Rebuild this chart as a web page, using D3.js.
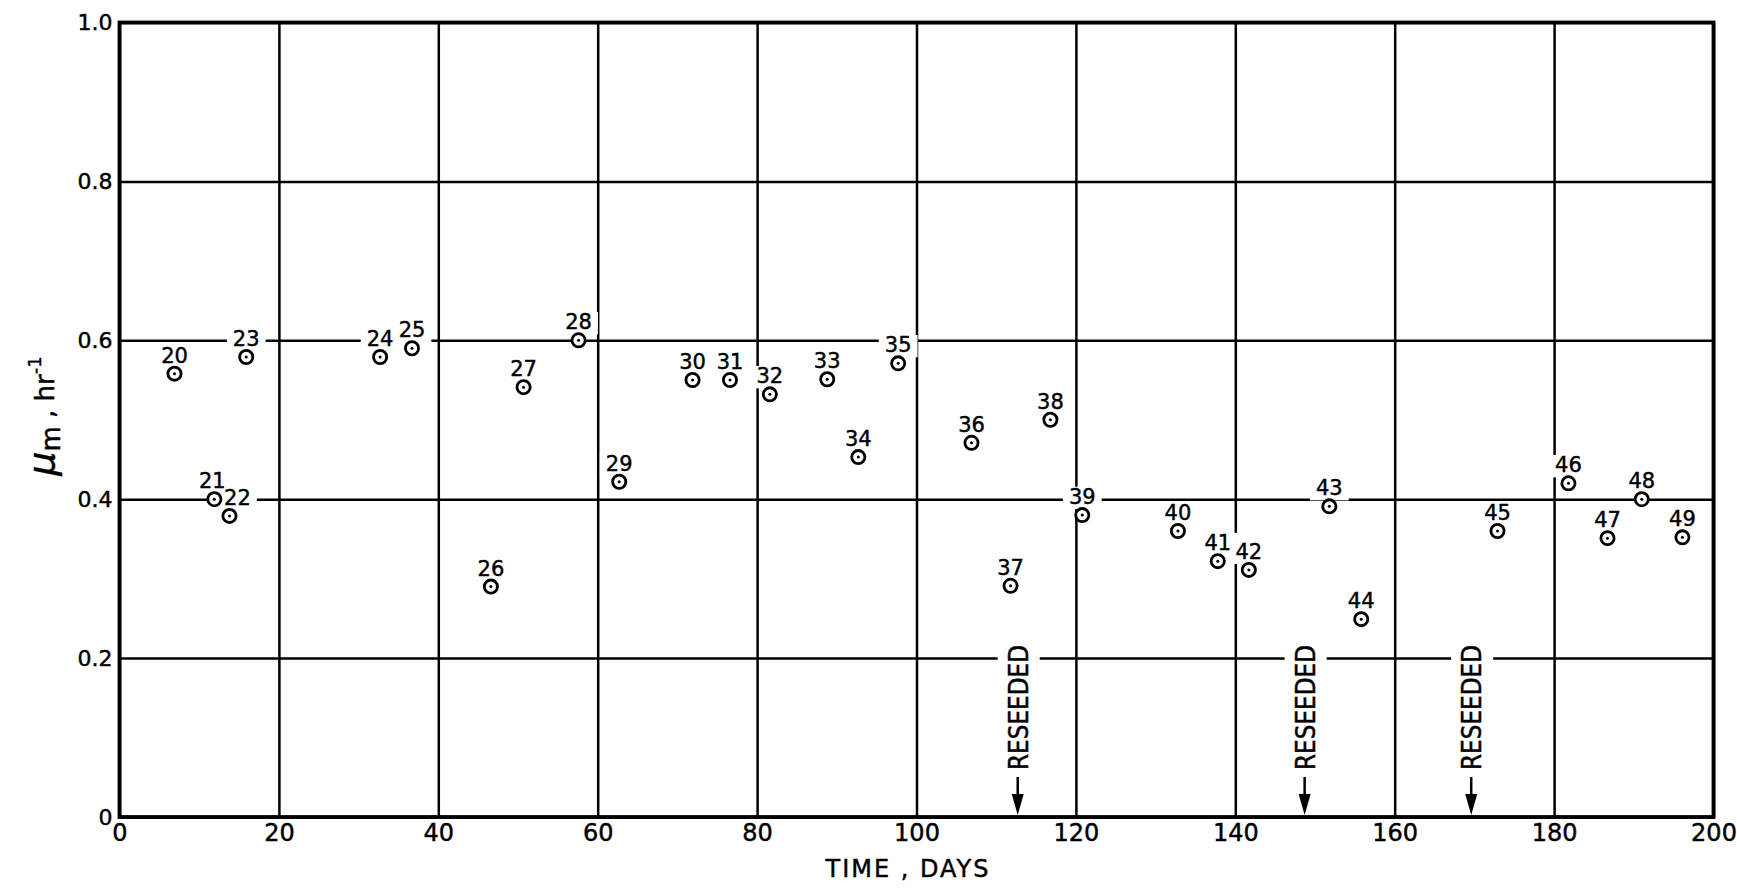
<!DOCTYPE html>
<html>
<head>
<meta charset="utf-8">
<script src="https://cdn.jsdelivr.net/npm/d3@7/dist/d3.min.js"></script>
<style>
  html, body { margin: 0; padding: 0; background: #fff; }
  svg { display: block; }
  text { font-family: "DejaVu Sans", sans-serif; fill: #000; stroke: #000; stroke-width: 0.45px; }
</style>
</head>
<body>
<svg id="chart" width="1737" height="891"></svg>
<script>
// ---- data ----
const runNumbers = [20, 21, 22, 23, 24, 25, 26, 27, 28, 29, 30, 31, 32, 33, 34, 35, 36, 37, 38, 39, 40, 41, 42, 43, 44, 45, 46, 47, 48, 49];
const timeDays   = [6.9, 11.9, 13.8, 15.9, 32.7, 36.7, 46.6, 50.7, 57.6, 62.7, 71.9, 76.6, 81.6, 88.8, 92.7, 97.7, 106.9, 111.8, 116.8, 120.8, 132.8, 137.8, 141.7, 151.8, 155.8, 172.9, 181.8, 186.7, 191.0, 196.1];
const muMax      = [0.558, 0.400, 0.379, 0.579, 0.579, 0.590, 0.290, 0.541, 0.600, 0.422, 0.550, 0.550, 0.532, 0.551, 0.453, 0.571, 0.471, 0.291, 0.500, 0.380, 0.360, 0.322, 0.311, 0.391, 0.249, 0.360, 0.420, 0.351, 0.400, 0.352];
const reseedDays = [112.7, 148.7, 169.6];
const reseedText = "RESEEDED";
const xTicks = [0, 20, 40, 60, 80, 100, 120, 140, 160, 180, 200];
const yTicks = [0, 0.2, 0.4, 0.6, 0.8, 1.0];
const xTitle = "TIME , DAYS";

const svg = d3.select("#chart");
const pL = 119.5, pR = 1713.5, pT = 22.5, pB = 817;
const x = d3.scaleLinear().domain([0, 200]).range([pL, pR]);
const y = d3.scaleLinear().domain([0, 1]).range([pB, pT]);

// grid + tick labels via axes
const gx = svg.append("g").attr("transform", `translate(0,${pB})`)
  .call(d3.axisBottom(x).tickValues(xTicks).tickSize(-(pB - pT)).tickPadding(7).tickFormat(d3.format("d")));
gx.select(".domain").remove();
gx.selectAll("line").attr("stroke", "#000").attr("stroke-width", 2.5);
gx.selectAll("text").attr("font-size", 24).attr("font-family", "DejaVu Sans");

const gy = svg.append("g").attr("transform", `translate(${pL},0)`)
  .call(d3.axisLeft(y).tickValues(yTicks).tickSize(-(pR - pL)).tickPadding(7)
    .tickFormat(d => d === 0 ? "0" : d3.format(".1f")(d)));
gy.select(".domain").remove();
gy.selectAll("line").attr("stroke", "#000").attr("stroke-width", 2.5);
gy.selectAll("text").attr("font-size", 22).attr("font-family", "DejaVu Sans");

// halo layer (white gaps in grid lines behind lettering)
const haloLayer = svg.append("g");
const markLayer = svg.append("g");

const labelFs = 21;
function halo(node, baseline) {
  const b = node.getBBox();
  const capTop = baseline - 0.73 * labelFs;
  haloLayer.append("rect")
    .attr("x", b.x - 6).attr("y", capTop - 2)
    .attr("width", b.width + 12).attr("height", baseline - capTop + 7)
    .attr("fill", "#fff");
}

// point labels
const pts = runNumbers.map((n, i) => ({ n, t: timeDays[i], v: muMax[i] }));
pts.forEach(p => {
  const dx = p.n === 22 ? 8 : (p.n === 21 ? -2 : 0);
  const by = y(p.v) - 11;
  const t = markLayer.append("text")
    .attr("x", x(p.t) + dx).attr("y", by)
    .attr("text-anchor", "middle").attr("font-size", labelFs)
    .text(p.n);
  halo(t.node(), by);
});

// points
markLayer.selectAll("circle.pt").data(pts).join("circle").attr("class", "pt")
  .attr("cx", d => x(d.t)).attr("cy", d => y(d.v)).attr("r", 6.6)
  .attr("fill", "#fff").attr("stroke", "#000").attr("stroke-width", 2.8);
markLayer.selectAll("circle.dot").data(pts).join("circle").attr("class", "dot")
  .attr("cx", d => x(d.t)).attr("cy", d => y(d.v)).attr("r", 1.5).attr("fill", "#000");

// reseeded annotations
reseedDays.forEach(d => {
  const cx = x(d);
  const g = markLayer.append("g").attr("transform", `translate(${cx + 1},770) rotate(-90)`);
  const t = g.append("text").attr("x", 0).attr("y", 0)
    .attr("dominant-baseline", "central")
    .attr("font-size", 26).attr("textLength", 125).attr("lengthAdjust", "spacingAndGlyphs")
    .text(reseedText);
  const b = t.node().getBBox();
  g.insert("rect", ":first-child").attr("x", b.x - 4).attr("y", b.y - 6)
    .attr("width", b.width + 8).attr("height", b.height + 12).attr("fill", "#fff");
  // arrow
  markLayer.append("line").attr("x1", cx).attr("x2", cx).attr("y1", 777).attr("y2", 806)
    .attr("stroke", "#000").attr("stroke-width", 2.5);
  markLayer.append("path")
    .attr("d", `M${cx - 6},794 L${cx + 6},794 L${cx},${pB - 2} Z`).attr("fill", "#000");
});

// frame
svg.append("rect").attr("x", pL).attr("y", pT).attr("width", pR - pL).attr("height", pB - pT)
  .attr("fill", "none").attr("stroke", "#000").attr("stroke-width", 3.8);

// axis titles
svg.append("text").attr("x", 908).attr("y", 877).attr("text-anchor", "middle")
  .attr("font-size", 24).attr("letter-spacing", 2).text(xTitle);

const yl = svg.append("text").attr("transform", "translate(54,416) rotate(-90)")
  .attr("text-anchor", "middle").attr("font-size", 26);
yl.append("tspan").attr("font-size", 38).attr("font-style", "italic").text("μ");
yl.append("tspan").attr("font-size", 26).attr("dy", 6).text("m");
yl.append("tspan").attr("font-size", 26).attr("dy", -6).text(" , hr");
yl.append("tspan").attr("font-size", 18).attr("dy", -13).text("-1");
</script>
</body>
</html>
